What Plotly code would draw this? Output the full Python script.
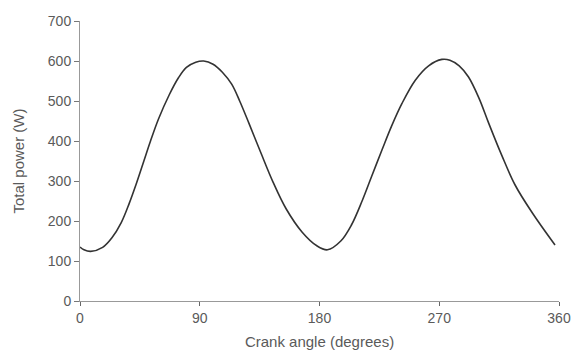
import plotly.graph_objects as go

crank_angle = [0, 3, 8, 17, 24, 31, 37, 42, 48, 53, 59, 67, 74, 80, 87, 93,
               100, 107, 114, 120, 127, 136, 145, 155, 167, 178, 186,
               196, 204, 212, 219, 227, 234, 242, 252, 262, 272,
               278, 285, 292, 300, 307, 317, 327, 340, 357]
total_power = [135, 128, 124, 134, 158, 196, 244, 290, 350, 400, 455, 515, 558, 584, 597, 600,
               592, 572, 542, 500, 444, 370, 298, 230, 172, 138, 128,
               150, 190, 250, 310, 378, 436, 494, 552, 588, 604,
               602, 588, 560, 506, 446, 364, 290, 220, 140]

x_ticks = [0, 90, 180, 270, 360]
y_ticks = [0, 100, 200, 300, 400, 500, 600, 700]

fig = go.Figure()
fig.add_trace(go.Scatter(
    x=crank_angle, y=total_power, mode="lines",
    line=dict(color="#333333", width=1.6, shape="spline", smoothing=1.0),
    hoverinfo="skip", showlegend=False,
))

font = dict(family="Liberation Sans, Arial, sans-serif", size=14, color="#5a5a5a")

fig.update_layout(
    width=573, height=353,
    margin=dict(l=80, r=14, t=21, b=52),
    paper_bgcolor="white", plot_bgcolor="white",
    font=font,
    xaxis=dict(
        range=[0, 360], tickvals=x_ticks, ticktext=[str(v) for v in x_ticks],
        showgrid=False, zeroline=False, showline=True, linecolor="#999999", linewidth=1,
        ticks="outside", ticklen=4, tickcolor="#666666", automargin=False,
        title=dict(text="Crank angle (degrees)", standoff=11, font=dict(size=15)),
    ),
    yaxis=dict(
        range=[0, 700], tickvals=y_ticks, ticktext=[str(v) for v in y_ticks],
        showgrid=False, zeroline=False, showline=True, linecolor="#999999", linewidth=1,
        ticks="outside", ticklen=5, tickcolor="#777777", automargin=False,
        title=dict(text="Total power (W)", standoff=19, font=dict(size=15)),
    ),
)

fig.write_html(
    "out.html",
    config={"displayModeBar": False},
    post_script="document.body.style.margin='0';document.body.style.overflow='hidden';",
)
